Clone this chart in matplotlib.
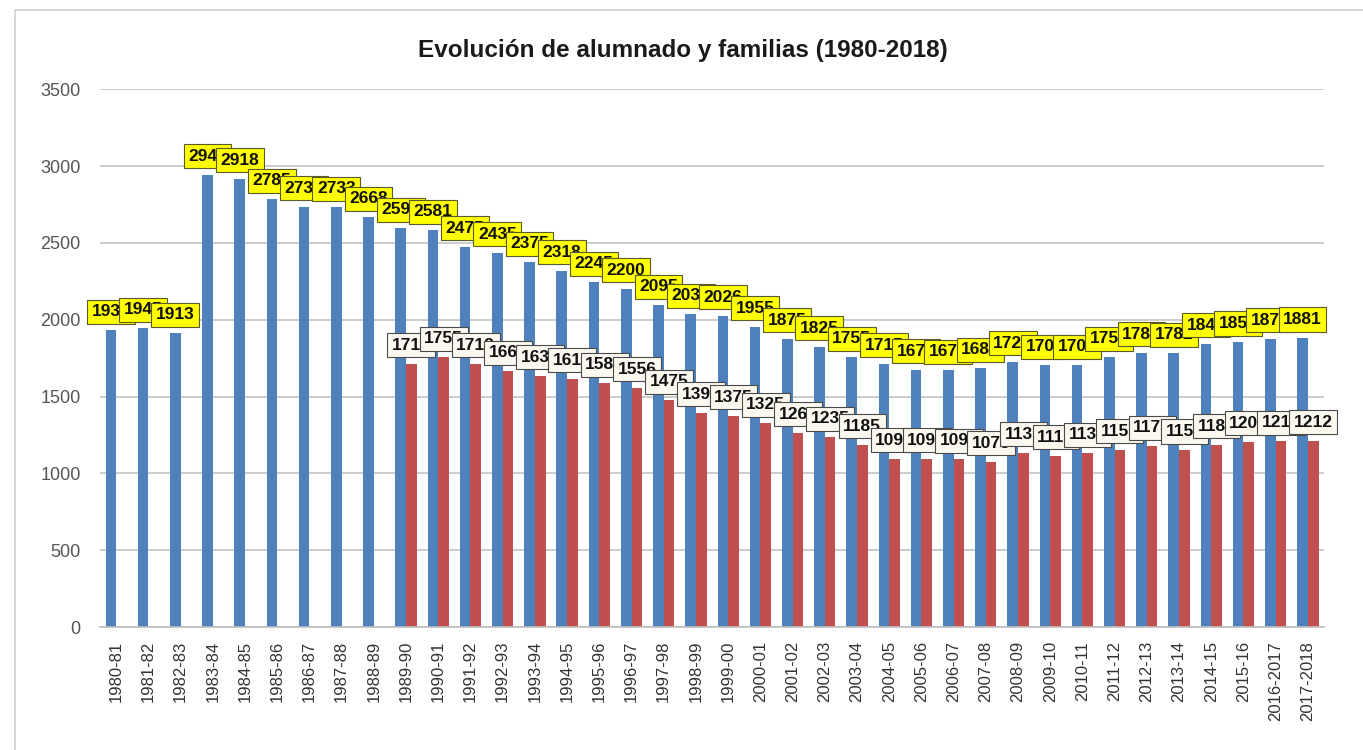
import matplotlib.pyplot as plt
import numpy as np
from matplotlib.patches import Rectangle

plt.rcParams['font.family'] = ['Liberation Sans', 'DejaVu Sans']

# Datos
cursos = ['1980-81', '1981-82', '1982-83', '1983-84', '1984-85', '1985-86', '1986-87',
          '1987-88', '1988-89', '1989-90', '1990-91', '1991-92', '1992-93', '1993-94',
          '1994-95', '1995-96', '1996-97', '1997-98', '1998-99', '1999-00', '2000-01',
          '2001-02', '2002-03', '2003-04', '2004-05', '2005-06', '2006-07', '2007-08',
          '2008-09', '2009-10', '2010-11', '2011-12', '2012-13', '2013-14', '2014-15',
          '2015-16', '2016-2017', '2017-2018']
alumnado = [1932, 1945, 1913, 2945, 2918, 2785, 2735, 2733, 2668, 2595, 2581, 2475,
            2435, 2375, 2318, 2245, 2200, 2095, 2035, 2026, 1955, 1875, 1825, 1755,
            1715, 1675, 1672, 1685, 1725, 1705, 1703, 1755, 1785, 1782, 1845, 1855,
            1875, 1881]
# familias desde 1989-90
familias = [None] * 9 + [1715, 1755, 1712, 1665, 1635, 1615, 1585, 1556, 1475, 1395,
                         1375, 1325, 1265, 1235, 1185, 1095, 1095, 1092, 1075, 1135,
                         1115, 1132, 1155, 1175, 1152, 1185, 1205, 1210, 1212]

AZUL = '#4F81BD'
ROJO = '#C0504D'

fig = plt.figure(figsize=(13.63, 7.5), dpi=100)
ax = fig.add_axes([0.0734, 0.164, 0.898, 0.717])

# Borde del área del gráfico
fig.patches.append(Rectangle((15 / 1363, -0.01), 1.01, 1 - 10 / 750 + 0.01,
                             transform=fig.transFigure, fill=False,
                             edgecolor='#D0D0D0', linewidth=1.2, zorder=0))

x = np.arange(len(cursos))
w = 0.33
off = 0.165

ax.bar(x - off, alumnado, width=w, color=AZUL, zorder=2)
xf = [xi for xi, v in zip(x, familias) if v is not None]
vf = [v for v in familias if v is not None]
ax.bar(np.array(xf) + off, vf, width=w, color=ROJO, zorder=2)

# Etiquetas de datos (se solapan como en el original)
for xi, v in zip(x, alumnado):
    ax.annotate(str(v), (xi - off, v), xytext=(0, 11), textcoords='offset pixels',
                ha='center', va='bottom', fontsize=12.5, fontweight='bold',
                color='#111111', zorder=5,
                bbox=dict(boxstyle='square,pad=0.26', fc='#FFFF00', ec='#5a5a2a', lw=0.8))
for xi, v in zip(xf, vf):
    ax.annotate(str(v), (xi + off, v), xytext=(0, 11), textcoords='offset pixels',
                ha='center', va='bottom', fontsize=12.5, fontweight='bold',
                color='#111111', zorder=6,
                bbox=dict(boxstyle='square,pad=0.26', fc='#FBF8F0', ec='#4a4a4a', lw=0.8))

ax.set_xlim(-0.5, len(cursos) - 0.5)
ax.set_ylim(0, 3500)
ax.set_yticks(range(0, 3501, 500))
ax.set_xticks(x)
ax.set_xticklabels(cursos, rotation=90, fontsize=12, color='#333333')
ax.tick_params(axis='y', labelsize=13, colors='#555555', length=0, pad=14)
ax.tick_params(axis='x', length=0, pad=10)
ax.grid(axis='y', color='#C4C4C4', linewidth=1.2, zorder=0)
ax.set_axisbelow(True)
for s in ['top', 'right', 'left']:
    ax.spines[s].set_visible(False)
ax.spines['bottom'].set_color('#BFBFBF')
ax.spines['bottom'].set_linewidth(1.2)

fig.text(0.501, 0.933, 'Evolución de alumnado y familias (1980-2018)', ha='center',
         va='center', fontsize=17.5, fontweight='bold', color='#1a1a1a')

fig.savefig('out.png', dpi=100)
